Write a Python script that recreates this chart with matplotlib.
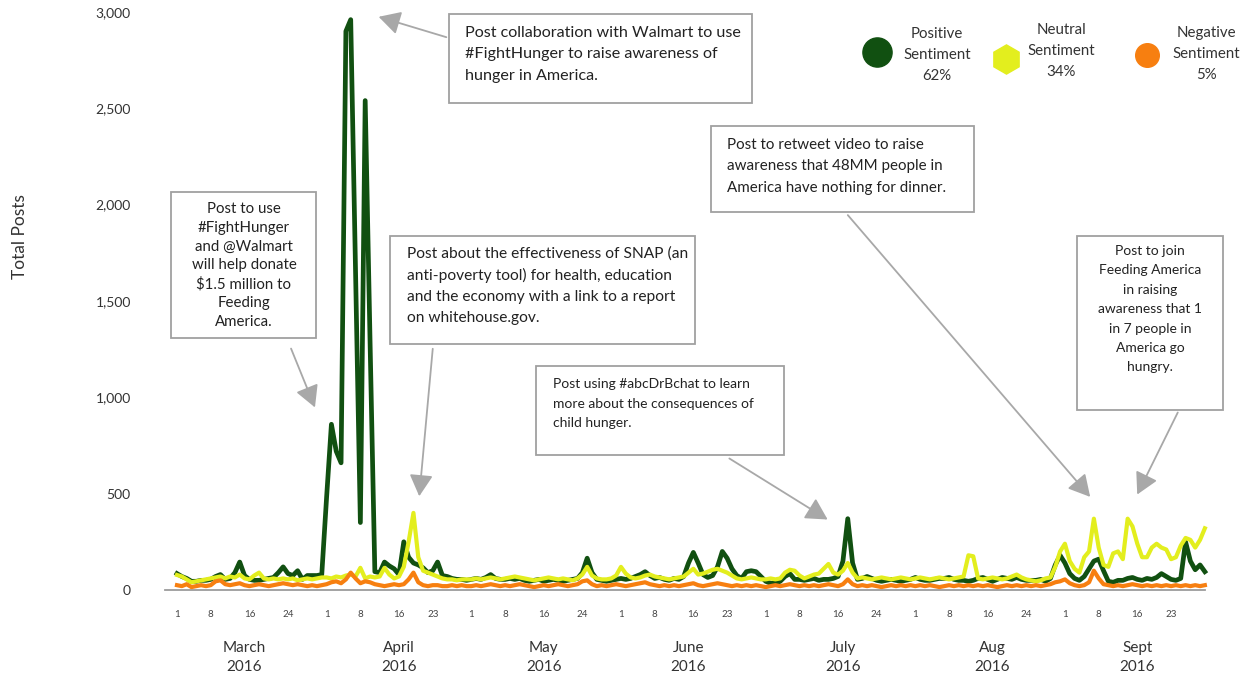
import pandas as pd
import matplotlib
matplotlib.use('Agg')
import matplotlib.pyplot as plt
from matplotlib.patches import Rectangle, FancyArrowPatch
from matplotlib.lines import Line2D

plt.rcParams['font.family'] = ['Lato', 'DejaVu Sans']

W, H = 1240, 676

# daily post counts, one list per month
pos_mar = [85, 70, 60, 45, 45, 50, 50, 55, 70, 80, 55, 60, 90, 145, 75, 55, 50, 50, 55, 60,
           65, 90, 120, 85, 75, 100, 55, 75, 75, 75, 80]
pos_apr = [480, 860, 720, 660, 2900, 2960, 1650, 350, 2540, 1300, 95, 90, 145, 125, 110, 80, 250, 170, 140, 130,
           115, 90, 100, 145, 75, 70, 60, 55, 55, 50]
pos_may = [55, 60, 55, 65, 80, 60, 55, 55, 60, 55, 60, 50, 45, 50, 55, 45, 50, 55, 50, 45,
           50, 55, 60, 90, 165, 90, 55, 50, 45, 50, 55]
pos_jun = [60, 55, 60, 70, 80, 95, 75, 60, 65, 55, 50, 60, 55, 70, 140, 195, 140, 80, 65, 75,
           120, 200, 165, 110, 75, 60, 95, 100, 95, 70]
pos_jul = [45, 35, 35, 45, 70, 85, 55, 55, 50, 55, 60, 50, 55, 55, 60, 70, 150, 370, 140, 55,
           60, 70, 60, 50, 45, 50, 55, 50, 45, 50, 55]
pos_aug = [65, 55, 50, 50, 55, 60, 60, 65, 55, 50, 50, 45, 50, 60, 65, 55, 45, 55, 65, 60,
           55, 65, 55, 50, 50, 50, 55, 45, 60, 130, 180]
pos_sep = [140, 85, 60, 50, 70, 110, 150, 160, 100, 45, 40, 50, 50, 60, 65, 55, 50, 60, 55, 65,
           85, 70, 55, 50, 60, 250, 150, 105, 130, 95]

neu_mar = [78, 70, 55, 40, 45, 50, 55, 60, 65, 70, 60, 70, 65, 80, 60, 55, 75, 90, 60, 55,
           60, 55, 60, 55, 60, 50, 55, 60, 55, 60, 65]
neu_apr = [65, 60, 70, 65, 75, 80, 70, 115, 60, 70, 65, 70, 115, 80, 60, 70, 120, 250, 400, 170,
           100, 90, 80, 70, 60, 55, 55, 50, 55, 55]
neu_may = [55, 60, 55, 60, 65, 60, 55, 60, 65, 70, 65, 60, 55, 50, 55, 60, 65, 60, 55, 60,
           55, 50, 60, 80, 120, 75, 60, 55, 55, 60, 75]
neu_jun = [120, 85, 65, 60, 65, 75, 80, 70, 65, 60, 55, 60, 65, 70, 90, 110, 80, 85, 95, 105,
           110, 100, 90, 75, 60, 55, 60, 65, 60, 55]
neu_jul = [55, 60, 55, 60, 90, 105, 100, 75, 60, 70, 80, 85, 110, 135, 90, 80, 100, 140, 90, 60,
           65, 60, 55, 60, 65, 60, 55, 60, 65, 60, 55]
neu_aug = [60, 65, 60, 55, 60, 65, 60, 55, 60, 65, 70, 180, 175, 60, 55, 60, 65, 60, 55, 60,
           70, 80, 65, 55, 50, 45, 50, 60, 65, 120, 200]
neu_sep = [240, 150, 110, 90, 170, 200, 370, 220, 130, 120, 190, 200, 160, 370, 330, 240, 170, 170, 220, 240,
           220, 210, 160, 170, 230, 270, 260, 220, 260, 320]

neg_mar = [25, 20, 30, 15, 20, 25, 20, 25, 45, 50, 30, 25, 30, 35, 25, 20, 25, 30, 25, 20,
           25, 30, 35, 30, 25, 30, 25, 20, 25, 20, 25]
neg_apr = [30, 40, 45, 35, 55, 90, 60, 35, 45, 40, 30, 25, 20, 25, 30, 25, 30, 55, 90, 40,
           25, 20, 25, 25, 20, 20, 25, 20, 25, 20]
neg_may = [20, 25, 20, 25, 30, 25, 20, 25, 20, 25, 30, 25, 20, 15, 20, 25, 20, 25, 30, 25,
           20, 25, 30, 45, 50, 30, 20, 25, 20, 25, 30]
neg_jun = [25, 20, 25, 30, 35, 40, 30, 25, 20, 25, 20, 25, 20, 25, 30, 35, 25, 20, 25, 30,
           35, 30, 25, 20, 25, 20, 25, 20, 25, 20]
neg_jul = [15, 20, 25, 20, 25, 30, 25, 20, 25, 20, 25, 20, 25, 30, 25, 20, 30, 55, 30, 20,
           25, 20, 25, 20, 15, 20, 25, 20, 25, 20, 25]
neg_aug = [20, 25, 20, 25, 20, 15, 20, 25, 20, 25, 20, 25, 20, 25, 20, 25, 20, 15, 20, 25,
           20, 25, 20, 25, 20, 25, 20, 25, 30, 40, 45]
neg_sep = [55, 35, 25, 20, 25, 40, 100, 60, 30, 25, 20, 25, 20, 25, 30, 25, 20, 25, 20, 25,
           20, 25, 20, 25, 20, 25, 20, 25, 20, 25]

positive = pos_mar + pos_apr + pos_may + pos_jun + pos_jul + pos_aug + pos_sep
neutral = neu_mar + neu_apr + neu_may + neu_jun + neu_jul + neu_aug + neu_sep
negative = neg_mar + neg_apr + neg_may + neg_jun + neg_jul + neg_aug + neg_sep
days = pd.date_range('2016-03-01', '2016-09-30', freq='D')

tick_days = {3: [1, 8, 16, 24], 4: [1, 8, 16, 23], 5: [1, 8, 16, 24], 6: [1, 8, 16, 23],
             7: [1, 8, 16, 24], 8: [1, 8, 16, 24], 9: [1, 8, 16, 23]}
month_labels = ['March\n2016', 'April\n2016', 'May\n2016', 'June\n2016', 'July\n2016', 'Aug\n2016', 'Sept\n2016']
month_centers = ['2016-03-15', '2016-04-16', '2016-05-16', '2016-06-15', '2016-07-17', '2016-08-17', '2016-09-16']

legend_names = ['Positive\nSentiment\n62%', 'Neutral\nSentiment\n34%', 'Negative\nSentiment\n5%']

GREEN = '#115011'
YELLOW = '#e3ee1e'
ORANGE = '#f77f10'
GRAY = '#a8a8a8'


def fx(px):
    return px / W


def fy(py):
    return 1 - py / H


fig = plt.figure(figsize=(W / 100, H / 100), dpi=100)
ax = fig.add_axes([fx(160), fy(600), 1055 / W, 600 / H])

ax.plot(days, positive, color=GREEN, lw=3.4, zorder=3)
ax.plot(days, neutral, color=YELLOW, lw=3.0, zorder=4)
ax.plot(days, negative, color=ORANGE, lw=3.0, zorder=5)
ax.axhline(0, color='#9c9c9c', lw=1.3, xmin=5 / 1055, xmax=1045 / 1055, zorder=1)

start = pd.Timestamp('2016-03-01')
ax.set_xlim(start - pd.Timedelta(days=3.52), start + pd.Timedelta(days=215.1))
ax.set_ylim(-52, 3062)

ticks = [pd.Timestamp(2016, m, d) for m in tick_days for d in tick_days[m]]
ax.set_xticks(ticks)
ax.set_xticklabels([str(t.day) for t in ticks], fontsize=7, color='#444444')
ax.set_yticks([0, 500, 1000, 1500, 2000, 2500, 3000])
ax.set_yticklabels(['0', '500', '1,000', '1,500', '2,000', '2,500', '3,000'], fontsize=10, color='#333333')
ax.tick_params(axis='x', length=0, pad=7)
ax.tick_params(axis='y', length=0, pad=21)
for s in ax.spines.values():
    s.set_visible(False)

for lab, c in zip(month_labels, month_centers):
    ax.text(pd.Timestamp(c), -0.068, lab, transform=ax.get_xaxis_transform(), ha='center', va='top',
            fontsize=11, color='#333333', linespacing=1.5)

fig.text(fx(20), fy(237), 'Total Posts', rotation=90, ha='center', va='center', fontsize=12.5, color='#333333')


def box(x0, y0, x1, y1):
    fig.add_artist(Rectangle((fx(x0), fy(y1)), (x1 - x0) / W, (y1 - y0) / H, transform=fig.transFigure,
                             facecolor='white', edgecolor='#a0a0a0', lw=1.3, zorder=10))


def arrow(x0, y0, x1, y1):
    fig.add_artist(FancyArrowPatch((fx(x0), fy(y0)), (fx(x1), fy(y1)), transform=fig.transFigure,
                                   arrowstyle='-|>,head_length=0.55,head_width=0.3', mutation_scale=24,
                                   color=GRAY, lw=1.3, zorder=11))


def note(x, y, s, size, ls, ha='left'):
    fig.text(fx(x), fy(y), s, ha=ha, va='top', multialignment=ha,
             fontsize=size, color='#222222', linespacing=ls, zorder=12)


# callouts
box(449, 14, 752, 103)
note(465, 26, 'Post collaboration with Walmart to use\n#FightHunger to raise awareness of\nhunger in America.',
     11.6, 1.68)
arrow(449, 38, 376, 16)

box(171, 192, 316, 338)
note(244, 202, 'Post to use\n#FightHunger\nand @Walmart\nwill help donate\n$1.5 million to\nFeeding\nAmerica.',
     10.8, 1.43, ha='center')
arrow(290, 346, 316, 410)

box(390, 236, 695, 344)
note(407, 246, 'Post about the effectiveness of SNAP (an\nanti-poverty tool) for health, education\n'
     'and the economy with a link to a report\non whitehouse.gov.', 11.2, 1.62)
arrow(433, 346, 419, 499)

box(536, 366, 784, 455)
note(553, 378, 'Post using #abcDrBchat to learn\nmore about the consequences of\nchild hunger.', 10, 1.76)
arrow(727, 457, 830, 521)

box(711, 126, 974, 212)
note(727, 138, 'Post to retweet video to raise\nawareness that 48MM people in\nAmerica have nothing for dinner.',
     10.9, 1.67)
arrow(846, 213, 1092, 499)

box(1077, 236, 1223, 410)
note(1150, 245, 'Post to join\nFeeding America\nin raising\nawareness that 1\nin 7 people in\nAmerica go\nhungry.',
     10, 1.74, ha='center')
arrow(1179, 410, 1136, 497)

# legend
marker_pos = [(877, 52, 'o', 21, GREEN), (1006, 59, 'h', 21, YELLOW), (1147, 55, 'o', 17, ORANGE)]
text_pos = [(937, 55), (1061, 51), (1206, 54)]
for (mx, my, mk, ms, col), (tx, ty), name in zip(marker_pos, text_pos, legend_names):
    fig.add_artist(Line2D([fx(mx)], [fy(my)], marker=mk, markersize=ms, color=col, transform=fig.transFigure))
    fig.text(fx(tx), fy(ty), name, ha='center', va='center', multialignment='center', fontsize=10.8,
             color='#333333', linespacing=1.6)

fig.savefig('out.png', dpi=100)
